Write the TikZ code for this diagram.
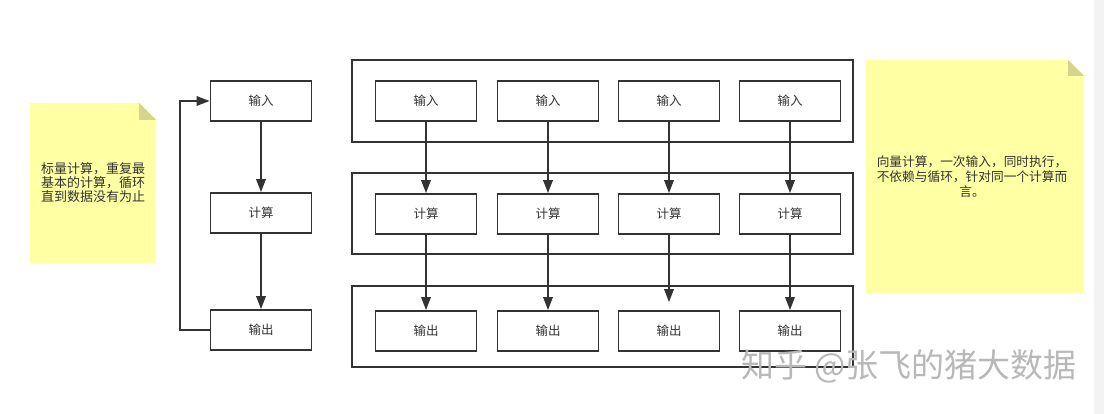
\documentclass[tikz,border=0pt]{standalone}
\usepackage{fontspec}
\setmainfont{Noto Sans CJK SC}
\usetikzlibrary{arrows.meta}
\definecolor{ink}{HTML}{333333}
\definecolor{notey}{HTML}{FFFFA3}
\definecolor{notefold}{HTML}{D4D48C}
\definecolor{strip}{HTML}{F3F3F3}
\tikzset{
  box/.style={draw=ink, line width=1.8pt, fill=white, minimum width=101pt, minimum height=40pt, inner sep=0pt, text=ink, font=\fontsize{12.5}{14}\selectfont},
  group/.style={draw=ink, line width=1.8pt},
  flow/.style={draw=ink, line width=1.8pt, -{Triangle[length=13pt,width=9.5pt]}},
}
\begin{document}
\begin{tikzpicture}[x=1pt,y=-1pt]
\useasboundingbox (0,0) rectangle (1104,414);
\fill[white] (0,0) rectangle (1104,414);
\fill[strip] (1094,0) rectangle (1104,414);
% left note
\fill[notey] (30,103) -- (139,103) -- (156,120) -- (156,263) -- (30,263) -- cycle;
\fill[notefold] (139,103) -- (156,120) -- (139,120) -- cycle;
\node[anchor=north west, align=left, text=ink, inner sep=0pt, font=\fontsize{13}{14}\selectfont] (lnote) at (41,162.5) {标量计算，重复最\\基本的计算，循环\\直到数据没有为止};
% right note
\fill[notey] (866,60) -- (1068,60) -- (1084,76) -- (1084,293) -- (866,293) -- cycle;
\fill[notefold] (1068,60) -- (1084,76) -- (1068,76) -- cycle;
\node[anchor=north, align=center, text=ink, inner sep=0pt, font=\fontsize{12.7}{15}\selectfont] (rnote) at (972,155.5) {向量计算，一次输入，同时执行，\\不依赖与循环，针对同一个计算而\\言。};
% left scalar chain
\node[box] (in0) at (261,101) {输入};
\node[box] (cp0) at (261,213) {计算};
\node[box] (out0) at (261,330) {输出};
\draw[flow] (in0) -- (cp0);
\draw[flow] (cp0) -- (out0);
\coordinate (lb) at (180,330);
\coordinate (lt) at (180,101);
\draw[flow] (out0.west) -- (lb) -- (lt) -- (in0.west);
% groups
\draw[group] (352,60) rectangle (853,142);
\draw[group] (352,173) rectangle (853,254);
\draw[group] (352,286) rectangle (853,367);
% vector boxes
\foreach \i/\x in {1/426,2/548,3/669,4/790}{
  \node[box] (in\i) at (\x,101) {输入};
  \node[box] (cp\i) at (\x,214) {计算};
  \node[box] (out\i) at (\x,331) {输出};
}
\foreach \i in {1,2,4}{
  \draw[flow] (in\i) -- (cp\i);
  \draw[flow] (cp\i) -- (out\i);
}
\draw[flow] (in3) -- (cp3);
\draw[flow, shorten >=8pt] (cp3) -- (out3);
% watermark
\node[anchor=west, inner sep=0pt, text=black!28, font=\fontsize{33}{33}\selectfont] (wm) at (741,366) {知乎 @张飞的猪大数据};
\end{tikzpicture}
\end{document}
